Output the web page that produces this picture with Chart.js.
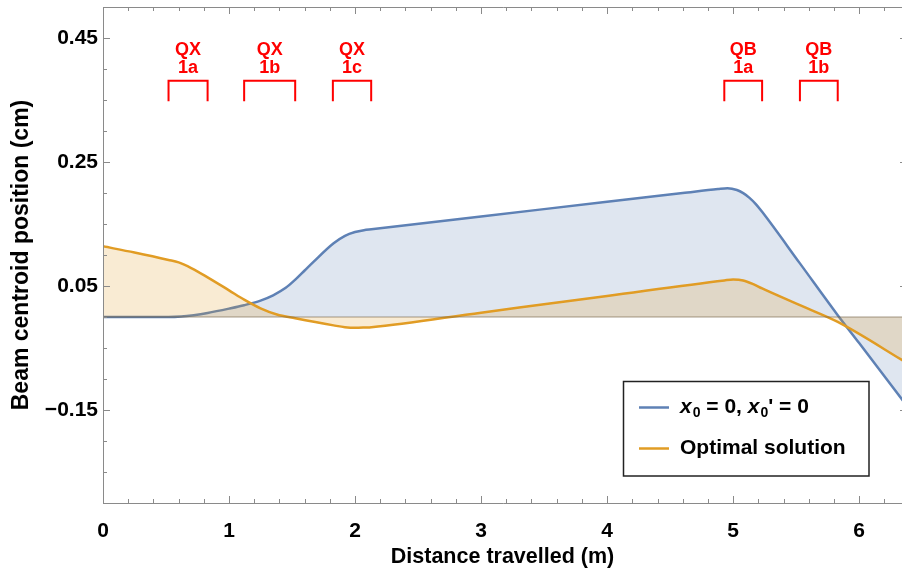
<!DOCTYPE html>
<html>
<head>
<meta charset="utf-8">
<script src="https://cdn.jsdelivr.net/npm/chart.js@4.4.1/dist/chart.umd.min.js"></script>
<style>
  html, body { margin: 0; padding: 0; background: #ffffff; }
  #wrap { width: 902px; height: 572px; }
</style>
</head>
<body>
<div id="wrap"><canvas id="c" width="902" height="572"></canvas></div>
<script>
// Beam centroid along the line, reference case x0 = 0, x0' = 0 (cm vs m)
const refS = [0, 0.52, 0.62, 0.72, 0.83, 1.0, 1.12, 1.25, 1.35, 1.45, 1.53, 1.6, 1.67, 1.83, 1.92, 2.0, 2.07, 2.13,
              3.0, 4.0, 4.6, 4.88, 4.955, 5.03, 5.08, 5.13, 5.18, 5.23, 5.53, 5.83, 6.0, 6.38];
const refX = [0, 0, 0.0008, 0.003, 0.0065, 0.0135, 0.019, 0.0265, 0.035, 0.047, 0.061, 0.075, 0.089, 0.119, 0.131, 0.137, 0.140, 0.1415,
              0.162, 0.186, 0.200, 0.2065, 0.2078, 0.2049, 0.1998, 0.1922, 0.1821, 0.1696, 0.0865, 0.003, -0.042, -0.1435];

// Beam centroid for the optimised launch conditions
const optS = [0, 0.25, 0.52, 0.6, 0.7, 0.83, 1.0, 1.12, 1.25, 1.38, 1.525, 1.83, 1.92, 2.0, 2.08, 2.13,
              3.0, 4.0, 4.93, 5.0, 5.08, 5.16, 5.23, 5.53, 5.83, 6.38];
const optX = [0.114, 0.104, 0.092, 0.088, 0.079, 0.064, 0.043, 0.028, 0.014, 0.004, -0.002, -0.0135, -0.0165, -0.0175, -0.017, -0.0165,
              0.007, 0.034, 0.059, 0.0605, 0.059, 0.053, 0.046, 0.019, -0.008, -0.0743];

// Quadrupole magnets along the beamline (start / end in m)
const quadNames = ["QX", "QX", "QX", "QB", "QB"];
const quadIds   = ["1a", "1b", "1c", "1a", "1b"];
const quadStart = [0.52, 1.12, 1.824, 4.93, 5.53];
const quadEnd   = [0.83, 1.525, 2.128, 5.23, 5.83];
const quadTop = 0.381, quadBottom = 0.348;

// Axis ticks
const xTicks = [0, 1, 2, 3, 4, 5, 6];
const yTicks = [-0.15, 0.05, 0.25, 0.45];
const yTickLabels = ["\u22120.15", "0.05", "0.25", "0.45"];
const xMin = 0, xMax = 6.34, yMin = -0.30, yMax = 0.50;

const seriesNames = ["x0 = 0, x0' = 0", "Optimal solution"];
const BLUE = "#5e81b5", ORANGE = "#e19c24";
const FONT = "'Liberation Sans', Arial, Helvetica, sans-serif";

const toPoints = (s, v) => s.map((x, i) => ({ x: x, y: v[i] }));

const framePlugin = {
  id: "frame",
  afterDatasetsDraw(chart) {
    const { ctx, chartArea: a, scales: { x, y } } = chart;
    ctx.save();
    // zero line of the filling
    ctx.strokeStyle = "rgba(110,90,60,0.6)";
    ctx.lineWidth = 1.2;
    const y0 = y.getPixelForValue(0);
    ctx.beginPath(); ctx.moveTo(a.left, y0); ctx.lineTo(a.right, y0); ctx.stroke();

    // frame: the right edge sits just past the canvas border
    const fr = a.right + 5;
    ctx.strokeStyle = "#8a8a8a";
    ctx.lineWidth = 1;
    ctx.beginPath();
    ctx.rect(a.left + 0.5, a.top + 0.5, fr - a.left, a.bottom - a.top);
    ctx.stroke();
    ctx.beginPath();
    // x ticks top and bottom (major every 1, minor every 0.2)
    for (let k = 0; k * 0.2 <= xMax + 1e-9; k++) {
      const v = k * 0.2;
      const px = Math.round(x.getPixelForValue(v)) + 0.5;
      const len = (k % 5 === 0) ? 7 : 4;
      ctx.moveTo(px, a.bottom); ctx.lineTo(px, a.bottom - len);
      ctx.moveTo(px, a.top); ctx.lineTo(px, a.top + len);
    }
    // y ticks left and right (major at labels, minor every 0.05)
    for (let k = 0; yMin + k * 0.05 <= yMax + 1e-9; k++) {
      const v = yMin + k * 0.05;
      const py = Math.round(y.getPixelForValue(v)) + 0.5;
      const major = yTicks.some(t => Math.abs(t - v) < 1e-6);
      const len = major ? 7 : 4;
      ctx.moveTo(a.left, py); ctx.lineTo(a.left + len, py);
      ctx.moveTo(fr, py); ctx.lineTo(fr - len, py);
    }
    ctx.stroke();
    ctx.restore();
  },
  afterDraw(chart) {
    const { ctx, scales: { x, y } } = chart;
    ctx.save();
    // quadrupole brackets and names
    ctx.strokeStyle = "#ff0000";
    ctx.fillStyle = "#ff0000";
    ctx.lineWidth = 2;
    ctx.textAlign = "center";
    ctx.textBaseline = "alphabetic";
    ctx.font = "bold 18px " + FONT;
    const yt = y.getPixelForValue(quadTop), yb = y.getPixelForValue(quadBottom);
    quadStart.forEach((s, i) => {
      const x1 = x.getPixelForValue(s), x2 = x.getPixelForValue(quadEnd[i]);
      ctx.beginPath();
      ctx.moveTo(x1, yb); ctx.lineTo(x1, yt); ctx.lineTo(x2, yt); ctx.lineTo(x2, yb);
      ctx.stroke();
      const cx = (x1 + x2) / 2;
      ctx.fillText(quadNames[i], cx, yt - 25.5);
      ctx.fillText(quadIds[i], cx, yt - 7.5);
    });

    // legend box
    const bx = 623.5, by = 381.5, bw = 245.5, bh = 94.5;
    ctx.fillStyle = "#ffffff";
    ctx.fillRect(bx, by, bw, bh);
    ctx.strokeStyle = "#222222";
    ctx.lineWidth = 1.5;
    ctx.strokeRect(bx, by, bw, bh);
    const rows = [407.5, 448.5];
    const colors = [BLUE, ORANGE];
    ctx.lineWidth = 2.5;
    rows.forEach((ry, i) => {
      ctx.strokeStyle = colors[i];
      ctx.beginPath(); ctx.moveTo(639, ry); ctx.lineTo(669, ry); ctx.stroke();
    });
    ctx.fillStyle = "#000000";
    ctx.textAlign = "left";
    ctx.textBaseline = "middle";
    const big = "bold 21px " + FONT, ital = "italic bold 21px " + FONT, sub = "bold 14px " + FONT;
    const pieces = [
      [ital, "x", 0], [sub, "0", 6], [big, " = 0, ", 0],
      [ital, "x", 0], [sub, "0", 6], [big, "' = 0", 0]
    ];
    let tx = 680;
    pieces.forEach(([f, t, dy]) => {
      ctx.font = f;
      ctx.fillText(t, tx, rows[0] + dy);
      tx += ctx.measureText(t).width + (f === ital ? 1 : 0);
    });
    ctx.font = big;
    ctx.fillText(seriesNames[1], 680, rows[1]);
    ctx.restore();
  }
};

new Chart(document.getElementById("c"), {
  type: "line",
  data: {
    datasets: [
      {
        label: seriesNames[1],
        data: toPoints(optS, optX),
        borderColor: ORANGE,
        backgroundColor: "rgba(225,156,36,0.2)",
        borderWidth: 2.5,
        fill: "origin",
        pointRadius: 0,
        cubicInterpolationMode: "monotone",
        order: 0
      },
      {
        label: seriesNames[0],
        data: toPoints(refS, refX),
        borderColor: BLUE,
        backgroundColor: "rgba(94,129,181,0.2)",
        borderWidth: 2.5,
        fill: "origin",
        pointRadius: 0,
        cubicInterpolationMode: "monotone",
        order: 1
      }
    ]
  },
  options: {
    responsive: false,
    animation: false,
    devicePixelRatio: 1,
    layout: { padding: { top: 7, right: 0, left: 0, bottom: 0 } },
    plugins: { legend: { display: false }, tooltip: { enabled: false } },
    scales: {
      x: {
        type: "linear",
        min: xMin, max: xMax,
        grid: { display: false, drawTicks: false },
        border: { display: false },
        afterBuildTicks: ax => { ax.ticks = xTicks.map(v => ({ value: v })); },
        afterFit: ax => { ax.height = 69; ax.paddingLeft = 0; ax.paddingRight = 0; },
        ticks: {
          color: "#000000", padding: 16, maxRotation: 0,
          font: { family: FONT, size: 21, weight: "bold" },
          callback: v => String(v)
        },
        title: {
          display: true, text: "Distance travelled (m)", color: "#000000",
          font: { family: FONT, size: 21.5, weight: "bold" },
          padding: { top: 0, bottom: 2 }
        }
      },
      y: {
        type: "linear",
        min: yMin, max: yMax,
        grid: { display: false, drawTicks: false },
        border: { display: false },
        afterBuildTicks: ax => { ax.ticks = yTicks.map(v => ({ value: v })); },
        afterFit: ax => { ax.width = 103; ax.paddingTop = 0; ax.paddingBottom = 0; },
        ticks: {
          color: "#000000", padding: 5,
          font: { family: FONT, size: 21, weight: "bold" },
          callback: v => yTickLabels[yTicks.findIndex(t => Math.abs(t - v) < 1e-6)]
        },
        title: {
          display: true, text: "Beam centroid position (cm)", color: "#000000",
          font: { family: FONT, size: 23, weight: "bold" },
          padding: { top: 8, bottom: 0 }
        }
      }
    }
  },
  plugins: [framePlugin]
});
</script>
</body>
</html>
